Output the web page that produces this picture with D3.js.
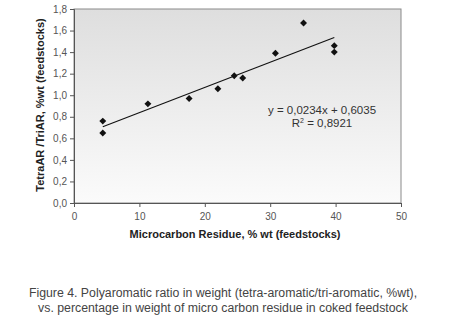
<!DOCTYPE html>
<html><head><meta charset="utf-8">
<script src="https://cdn.jsdelivr.net/npm/d3@7"></script>
<style>body{margin:0;background:#fff}svg{display:block}</style>
</head><body>
<script>
const mcr = [4.4, 4.4, 11.3, 17.6, 22.0, 24.5, 25.8, 30.8, 35.1, 39.8, 39.8];
const ratio = [0.76, 0.65, 0.92, 0.97, 1.06, 1.18, 1.16, 1.39, 1.67, 1.46, 1.40];
const slope = 0.0234, intercept = 0.6035, r2 = "0,8921";
const xTicks = [0, 10, 20, 30, 40, 50];
const yTicks = [0, 0.2, 0.4, 0.6, 0.8, 1.0, 1.2, 1.4, 1.6, 1.8];
const xTitle = "Microcarbon Residue, % wt (feedstocks)";
const yTitle = "TetraAR /TriAR, %wt (feedstocks)";
const caption = ["Figure 4. Polyaromatic ratio in weight (tetra-aromatic/tri-aromatic, %wt),",
                 "vs. percentage in weight of micro carbon residue in coked feedstock"];

const W = 450, H = 320;
const m = {l: 74, r: 401, t: 9, b: 203};
const svg = d3.select("body").append("svg").attr("width", W).attr("height", H);
const fmt = d => d3.format(".1f")(d).replace(".", ",");

const x = d3.scaleLinear().domain([0, 50]).range([m.l, m.r]);
const y = d3.scaleLinear().domain([0, 1.8]).range([m.b, m.t]);

const defs = svg.append("defs");
const g = defs.append("linearGradient").attr("id", "bg").attr("x1", 0).attr("y1", 0).attr("x2", 0).attr("y2", 1);
g.append("stop").attr("offset", 0).attr("stop-color", "#dedede");
g.append("stop").attr("offset", 1).attr("stop-color", "#fbfbfb");

svg.append("rect").attr("x", m.l).attr("y", m.t).attr("width", m.r - m.l).attr("height", m.b - m.t)
  .attr("fill", "url(#bg)").attr("stroke", "#8a8a8a").attr("stroke-width", 1);

const font = "'Liberation Sans', Arial, sans-serif";

const xa = svg.append("g").attr("transform", `translate(0,${m.b})`)
  .call(d3.axisBottom(x).tickValues(xTicks).tickSize(4).tickPadding(6).tickFormat(d3.format("d")));
const ya = svg.append("g").attr("transform", `translate(${m.l},0)`)
  .call(d3.axisLeft(y).tickValues(yTicks).tickSize(4).tickPadding(3).tickFormat(fmt));
[xa, ya].forEach(a => {
  a.select(".domain").attr("stroke", "#555");
  a.selectAll(".tick line").attr("stroke", "#555");
  a.selectAll("text").attr("fill", "#555").style("font-family", font).style("font-size", "10px");
});

svg.append("line")
  .attr("x1", x(d3.min(mcr))).attr("y1", y(slope * d3.min(mcr) + intercept))
  .attr("x2", x(d3.max(mcr))).attr("y2", y(slope * d3.max(mcr) + intercept))
  .attr("stroke", "#111").attr("stroke-width", 1.1);

const sym = d3.symbol().type(d3.symbolSquare).size(24);
svg.append("g").selectAll("path").data(mcr).join("path")
  .attr("transform", (d, i) => `translate(${x(d)},${y(ratio[i])}) rotate(45)`)
  .attr("d", sym).attr("fill", "#111");

const eq = svg.append("g").style("font-family", font).style("font-size", "11.5px").attr("fill", "#333").attr("text-anchor", "middle");
eq.append("text").attr("x", 322).attr("y", 114).text(`y = ${String(slope).replace(".", ",")}x + ${String(intercept).replace(".", ",")}`);
const rt = eq.append("text").attr("x", 322).attr("y", 127);
rt.append("tspan").text("R");
rt.append("tspan").attr("dy", -4).style("font-size", "7px").text("2");
rt.append("tspan").attr("dy", 4).text(` = ${r2}`);

svg.append("text").attr("x", 235).attr("y", 238).attr("text-anchor", "middle")
  .style("font-family", font).style("font-size", "11px").style("font-weight", "bold").attr("fill", "#222")
  .text(xTitle);
svg.append("text").attr("transform", "translate(44,105) rotate(-90)").attr("text-anchor", "middle")
  .style("font-family", font).style("font-size", "11px").style("font-weight", "bold").attr("fill", "#222")
  .text(yTitle);

svg.append("g").selectAll("text").data(caption).join("text")
  .attr("x", 223).attr("y", (d, i) => 297 + i * 15).attr("text-anchor", "middle")
  .style("font-family", font).style("font-size", "12.3px").attr("fill", "#444")
  .text(d => d);
</script>
</body></html>
